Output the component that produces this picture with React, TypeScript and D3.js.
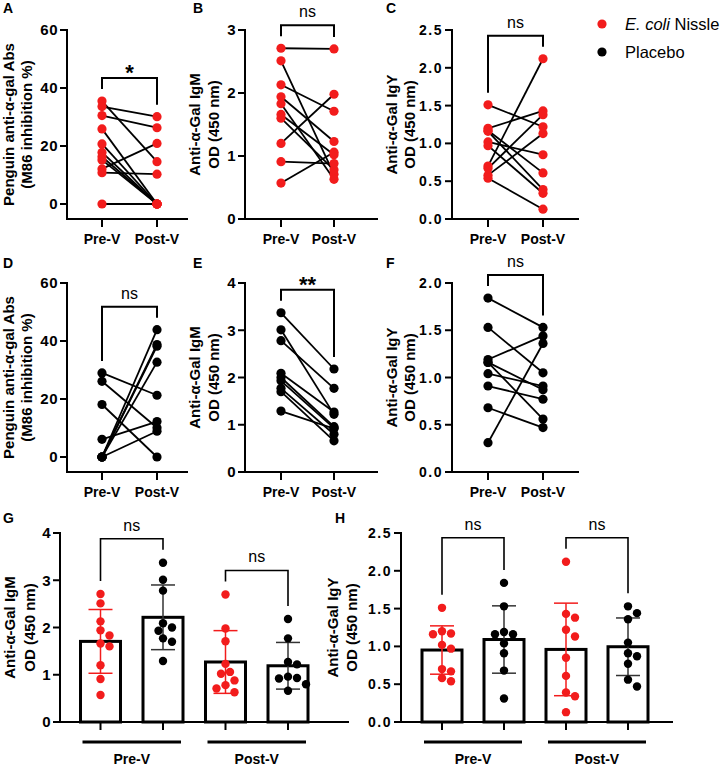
import React from "react";
import * as d3 from "d3";

const FONT = "Arial, 'Liberation Sans', Helvetica, sans-serif";
const RED = "#f21c1c";
const BLACK = "#000000";

// ---------- data ----------
const timepoints = ["Pre-V", "Post-V"];
const groupNames = ["E. coli Nissle", "Placebo"];

// E. coli Nissle (red)
const penguinEcnPre = [35.5, 33.6, 30.5, 25.9, 20.7, 17.8, 16.3, 15.2, 12.1, 10.8, 0];
const penguinEcnPost = [14.6, 30.1, 26.3, 0, 0, 0, 0, 0, 20.9, 10.3, 0];
const igmEcnPre = [2.71, 2.51, 2.13, 1.94, 1.83, 1.66, 1.6, 1.2, 0.91, 0.57];
const igmEcnPost = [2.7, 0.71, 1.71, 1.23, 0.63, 1.02, 0.78, 1.98, 0.88, 1.06];
const igyEcnPre = [1.51, 1.2, 1.17, 1.16, 1.02, 0.97, 0.7, 0.67, 0.58, 0.54];
const igyEcnPost = [1.22, 1.43, 0.61, 0.39, 0.85, 0.34, 2.12, 1.38, 1.13, 0.13];

// Placebo (black)
const penguinPlaPre = [29, 26.1, 18.1, 6.1, 0, 0, 0, 0, 0];
const penguinPlaPost = [21.3, 10.1, 0, 12.2, 43.9, 38.8, 38.2, 32.7, 8.9];
const igmPlaPre = [3.37, 3.01, 2.78, 2.09, 2.0, 1.93, 1.77, 1.7, 1.29];
const igmPlaPost = [2.18, 1.22, 1.77, 1.27, 0.96, 0.93, 0.8, 0.66, 0.92];
const igyPlaPre = [1.84, 1.53, 1.19, 1.16, 1.16, 1.04, 0.91, 0.68, 0.31];
const igyPlaPost = [1.53, 1.05, 1.44, 0.87, 0.56, 0.91, 0.77, 0.47, 1.36];

const penguinTitle = ["Penguin anti-α-gal Abs", "(M86 inhibition %)"];
const igmTitle = ["Anti-α-Gal IgM", "OD (450 nm)"];
const igyTitle = ["Anti-α-Gal IgY", "OD (450 nm)"];

// significance labels
const sigA = "*";
const sigB = "ns";
const sigC = "ns";
const sigD = "ns";
const sigE = "**";
const sigF = "ns";
const sigG = ["ns", "ns"];
const sigH = ["ns", "ns"];

// ---------- layout ----------
const ROWS = [
  { yTop: 30, axisY: 219, letterY: 13 },
  { yTop: 283, axisY: 472, letterY: 268 },
];
const COLS = [
  { axisX: 67, xEnd: 187, pre: 102, post: 157, zeroOff: 15, titleX: [14, 32], letterX: 3 },
  { axisX: 245, xEnd: 377, pre: 281, post: 334, zeroOff: 0, titleX: [200, 219], letterX: 193 },
  { axisX: 452, xEnd: 578, pre: 488, post: 543, zeroOff: 0, titleX: [397, 415], letterX: 386 },
];

type LineProps = {
  letter: string;
  row: number;
  col: number;
  pre: number[];
  post: number[];
  color: string;
  yMax: number;
  tickCount: number;
  fmt: string;
  title: string[];
  sig: string;
};

function YTitle({ lines, xs, cy }: { lines: string[]; xs: number[]; cy: number }) {
  return (
    <g>
      {lines.map((t, i) => (
        <text
          key={i}
          transform={`translate(${xs[i]},${cy}) rotate(-90)`}
          textAnchor="middle"
          fontSize={15}
          fontWeight="bold"
          fontFamily={FONT}
        >
          {t}
        </text>
      ))}
    </g>
  );
}

function SigLabel({ x, top, label }: { x: number; top: number; label: string }) {
  const star = label.includes("*");
  return (
    <text
      x={x}
      y={star ? top + 2 : top - 8}
      textAnchor="middle"
      fontSize={star ? 22 : 16}
      fontWeight={star ? "bold" : "normal"}
      fontFamily={FONT}
    >
      {label}
    </text>
  );
}

function TickLabel({ x, y, text }: { x: number; y: number; text: string }) {
  const dec = text.includes(".");
  return (
    <text
      x={x}
      y={y}
      dy="0.36em"
      textAnchor="end"
      fontSize={dec ? 14 : 15}
      fontWeight="bold"
      fontFamily={FONT}
      letterSpacing={dec ? 1.5 : 0.5}
    >
      {text}
    </text>
  );
}

function LinePanel(p: LineProps) {
  const R = ROWS[p.row];
  const C = COLS[p.col];
  const y = d3.scaleLinear().domain([0, p.yMax]).range([R.axisY - C.zeroOff, R.yTop]);
  const x = d3.scalePoint<string>().domain(timepoints).range([C.pre, C.post]);
  const ticks = y.ticks(p.tickCount);
  const fmt = d3.format(p.fmt);
  const pairs = d3.zip(p.pre, p.post);
  const legPre = y(d3.max(p.pre) as number) - 12;
  const legPost = y(d3.max(p.post) as number) - 12;
  const top = Math.min(legPre, legPost) - 11;
  const xPre = x("Pre-V") as number;
  const xPost = x("Post-V") as number;
  return (
    <g>
      <text x={C.letterX} y={R.letterY} fontSize={14} fontWeight="bold" fontFamily={FONT}>
        {p.letter}
      </text>
      <YTitle lines={p.title} xs={C.titleX} cy={(R.yTop + R.axisY) / 2} />
      <line x1={C.axisX} x2={C.axisX} y1={R.yTop} y2={R.axisY} stroke="#000" strokeWidth={2} strokeLinecap="square" />
      <line x1={C.axisX} x2={C.xEnd} y1={R.axisY} y2={R.axisY} stroke="#000" strokeWidth={2} strokeLinecap="square" />
      {ticks.map((t) => (
        <g key={t}>
          <line x1={C.axisX - 7} x2={C.axisX} y1={y(t)} y2={y(t)} stroke="#000" strokeWidth={2} />
          <TickLabel x={C.axisX - 9} y={y(t)} text={fmt(t)} />
        </g>
      ))}
      {timepoints.map((tp) => (
        <g key={tp}>
          <line x1={x(tp)} x2={x(tp)} y1={R.axisY} y2={R.axisY + 8} stroke="#000" strokeWidth={2} />
          <text x={x(tp)} y={R.axisY + 25} textAnchor="middle" fontSize={14} fontWeight="bold" fontFamily={FONT}>
            {tp}
          </text>
        </g>
      ))}
      <path d={`M${xPre},${legPre}V${top}H${xPost}V${legPost}`} fill="none" stroke="#000" strokeWidth={2} />
      <SigLabel x={(xPre + xPost) / 2} top={top} label={p.sig} />
      {pairs.map(([a, b], i) => (
        <line key={i} x1={xPre} y1={y(a)} x2={xPost} y2={y(b)} stroke="#000" strokeWidth={1.8} />
      ))}
      {p.pre.map((v, i) => (
        <circle key={"a" + i} cx={xPre} cy={y(v)} r={4.6} fill={p.color} />
      ))}
      {p.post.map((v, i) => (
        <circle key={"b" + i} cx={xPost} cy={y(v)} r={4.6} fill={p.color} />
      ))}
    </g>
  );
}

function swarm(values: number[], y: (v: number) => number, r: number, step: number) {
  const placed: { cy: number; dx: number }[] = [];
  const order = values.map((_, i) => i).sort((a, b) => values[b] - values[a]);
  const res: { cy: number; dx: number }[] = new Array(values.length);
  for (const i of order) {
    const cy = y(values[i]);
    let k = 0;
    let dx = 0;
    for (;;) {
      dx = k === 0 ? 0 : (k % 2 === 1 ? 1 : -1) * Math.ceil(k / 2) * step;
      if (placed.every((q) => Math.hypot(q.dx - dx, q.cy - cy) >= 2 * r + 0.3)) break;
      k++;
    }
    placed.push({ cy, dx });
    res[i] = { cy, dx };
  }
  return res;
}

type BarSeries = { values: number[]; color: string };
type BarProps = {
  letter: string;
  letterX: number;
  axisX: number;
  xEnd: number;
  centers: [number, number];
  titleX: number[];
  title: string[];
  yMax: number;
  tickCount: number;
  fmt: string;
  series: BarSeries[];
  sigs: string[];
  alignTops: boolean;
};

const BAR_ROW = { yTop: 533, axisY: 722, letterY: 523 };

function BarPanel(p: BarProps) {
  const R = BAR_ROW;
  const y = d3.scaleLinear().domain([0, p.yMax]).range([R.axisY, R.yTop]);
  const keys = p.series.map((_, i) => String(i));
  const x = d3.scalePoint<string>().domain(keys).range(p.centers);
  const ticks = y.ticks(p.tickCount);
  const fmt = d3.format(p.fmt);
  const bw = 40;
  const pairs = [
    [0, 1],
    [2, 3],
  ];
  const legs = p.series.map((s) => y(d3.max(s.values) as number) - 13);
  let tops = pairs.map(([a, b]) => Math.min(legs[a], legs[b]) - 11);
  if (p.alignTops) {
    const m = Math.min(...tops);
    tops = tops.map(() => m);
  }
  const groupSpans = pairs.map(([a, b]) => [(x(String(a)) as number) - 18, (x(String(b)) as number) + 18]);
  return (
    <g>
      <text x={p.letterX} y={R.letterY} fontSize={14} fontWeight="bold" fontFamily={FONT}>
        {p.letter}
      </text>
      <YTitle lines={p.title} xs={p.titleX} cy={(R.yTop + R.axisY) / 2} />
      {p.series.map((s, i) => {
        const m = d3.mean(s.values) as number;
        const cx = x(String(i)) as number;
        return (
          <rect
            key={"bar" + i}
            x={cx - bw / 2}
            y={y(m)}
            width={bw}
            height={y(0) - y(m)}
            fill="#fff"
            stroke="#000"
            strokeWidth={3}
          />
        );
      })}
      <line x1={p.axisX} x2={p.axisX} y1={R.yTop} y2={R.axisY} stroke="#000" strokeWidth={2} strokeLinecap="square" />
      <line x1={p.axisX} x2={p.xEnd} y1={R.axisY} y2={R.axisY} stroke="#000" strokeWidth={2} strokeLinecap="square" />
      {ticks.map((t) => (
        <g key={t}>
          <line x1={p.axisX - 7} x2={p.axisX} y1={y(t)} y2={y(t)} stroke="#000" strokeWidth={2} />
          <TickLabel x={p.axisX - 9} y={y(t)} text={fmt(t)} />
        </g>
      ))}
      {keys.map((k) => (
        <line key={"xt" + k} x1={x(k)} x2={x(k)} y1={R.axisY} y2={R.axisY + 8} stroke="#000" strokeWidth={2} />
      ))}
      {groupSpans.map(([a, b], i) => (
        <g key={"grp" + i}>
          <line x1={a} x2={b} y1={R.axisY + 20} y2={R.axisY + 20} stroke="#000" strokeWidth={3} />
          <text x={(a + b) / 2} y={R.axisY + 42} textAnchor="middle" fontSize={14} fontWeight="bold" fontFamily={FONT}>
            {timepoints[i]}
          </text>
        </g>
      ))}
      {p.series.map((s, i) => {
        const m = d3.mean(s.values) as number;
        const sd = d3.deviation(s.values) as number;
        const cx = x(String(i)) as number;
        const col = s.color === BLACK ? "#333" : s.color;
        const cw = 12;
        return (
          <g key={"eb" + i} stroke={col} strokeWidth={1.5}>
            <line x1={cx} x2={cx} y1={y(m + sd)} y2={y(m - sd)} />
            <line x1={cx - cw} x2={cx + cw} y1={y(m + sd)} y2={y(m + sd)} />
            <line x1={cx - cw} x2={cx + cw} y1={y(m - sd)} y2={y(m - sd)} />
          </g>
        );
      })}
      {p.series.map((s, i) => {
        const cx = x(String(i)) as number;
        const pos = swarm(s.values, y, 4.2, 4.5);
        return pos.map((q, j) => (
          <circle key={"d" + i + "-" + j} cx={cx + q.dx} cy={q.cy} r={4.2} fill={s.color} />
        ));
      })}
      {pairs.map(([a, b], i) => {
        const xa = x(String(a)) as number;
        const xb = x(String(b)) as number;
        return (
          <g key={"br" + i}>
            <path d={`M${xa},${legs[a]}V${tops[i]}H${xb}V${legs[b]}`} fill="none" stroke="#000" strokeWidth={1.6} />
            <SigLabel x={(xa + xb) / 2} top={tops[i]} label={p.sigs[i]} />
          </g>
        );
      })}
    </g>
  );
}

function Legend() {
  const items = [
    { color: RED, y: 24 },
    { color: BLACK, y: 52 },
  ];
  return (
    <g fontFamily={FONT} fontSize={16.5}>
      {items.map((it, i) => (
        <g key={i}>
          <circle cx={602} cy={it.y} r={4.6} fill={it.color} />
          <text x={625} y={it.y + 6}>
            {i === 0 ? (
              <>
                <tspan fontStyle="italic">{groupNames[0].slice(0, 7)}</tspan>
                <tspan>{groupNames[0].slice(7)}</tspan>
              </>
            ) : (
              groupNames[1]
            )}
          </text>
        </g>
      ))}
    </g>
  );
}

export default function App() {
  return (
    <svg
      width={723}
      height={767}
      style={{ position: "absolute", left: 0, top: 0, background: "#fff" }}
      fontFamily={FONT}
    >
      <rect width={723} height={767} fill="#fff" />
      <LinePanel letter="A" row={0} col={0} pre={penguinEcnPre} post={penguinEcnPost} color={RED} yMax={60} tickCount={3} fmt="d" title={penguinTitle} sig={sigA} />
      <LinePanel letter="B" row={0} col={1} pre={igmEcnPre} post={igmEcnPost} color={RED} yMax={3} tickCount={3} fmt="d" title={igmTitle} sig={sigB} />
      <LinePanel letter="C" row={0} col={2} pre={igyEcnPre} post={igyEcnPost} color={RED} yMax={2.5} tickCount={5} fmt=".1f" title={igyTitle} sig={sigC} />
      <LinePanel letter="D" row={1} col={0} pre={penguinPlaPre} post={penguinPlaPost} color={BLACK} yMax={60} tickCount={3} fmt="d" title={penguinTitle} sig={sigD} />
      <LinePanel letter="E" row={1} col={1} pre={igmPlaPre} post={igmPlaPost} color={BLACK} yMax={4} tickCount={4} fmt="d" title={igmTitle} sig={sigE} />
      <LinePanel letter="F" row={1} col={2} pre={igyPlaPre} post={igyPlaPost} color={BLACK} yMax={2} tickCount={4} fmt=".1f" title={igyTitle} sig={sigF} />
      <BarPanel
        letter="G"
        letterX={3}
        axisX={60}
        xEnd={348}
        centers={[100.5, 288]}
        titleX={[15, 35]}
        title={igmTitle}
        yMax={4}
        tickCount={4}
        fmt="d"
        series={[
          { values: igmEcnPre, color: RED },
          { values: igmPlaPre, color: BLACK },
          { values: igmEcnPost, color: RED },
          { values: igmPlaPost, color: BLACK },
        ]}
        sigs={sigG}
        alignTops={false}
      />
      <BarPanel
        letter="H"
        letterX={335}
        axisX={401}
        xEnd={672}
        centers={[442, 628]}
        titleX={[338, 357]}
        title={igyTitle}
        yMax={2.5}
        tickCount={5}
        fmt=".1f"
        series={[
          { values: igyEcnPre, color: RED },
          { values: igyPlaPre, color: BLACK },
          { values: igyEcnPost, color: RED },
          { values: igyPlaPost, color: BLACK },
        ]}
        sigs={sigH}
        alignTops={true}
      />
      <Legend />
    </svg>
  );
}
